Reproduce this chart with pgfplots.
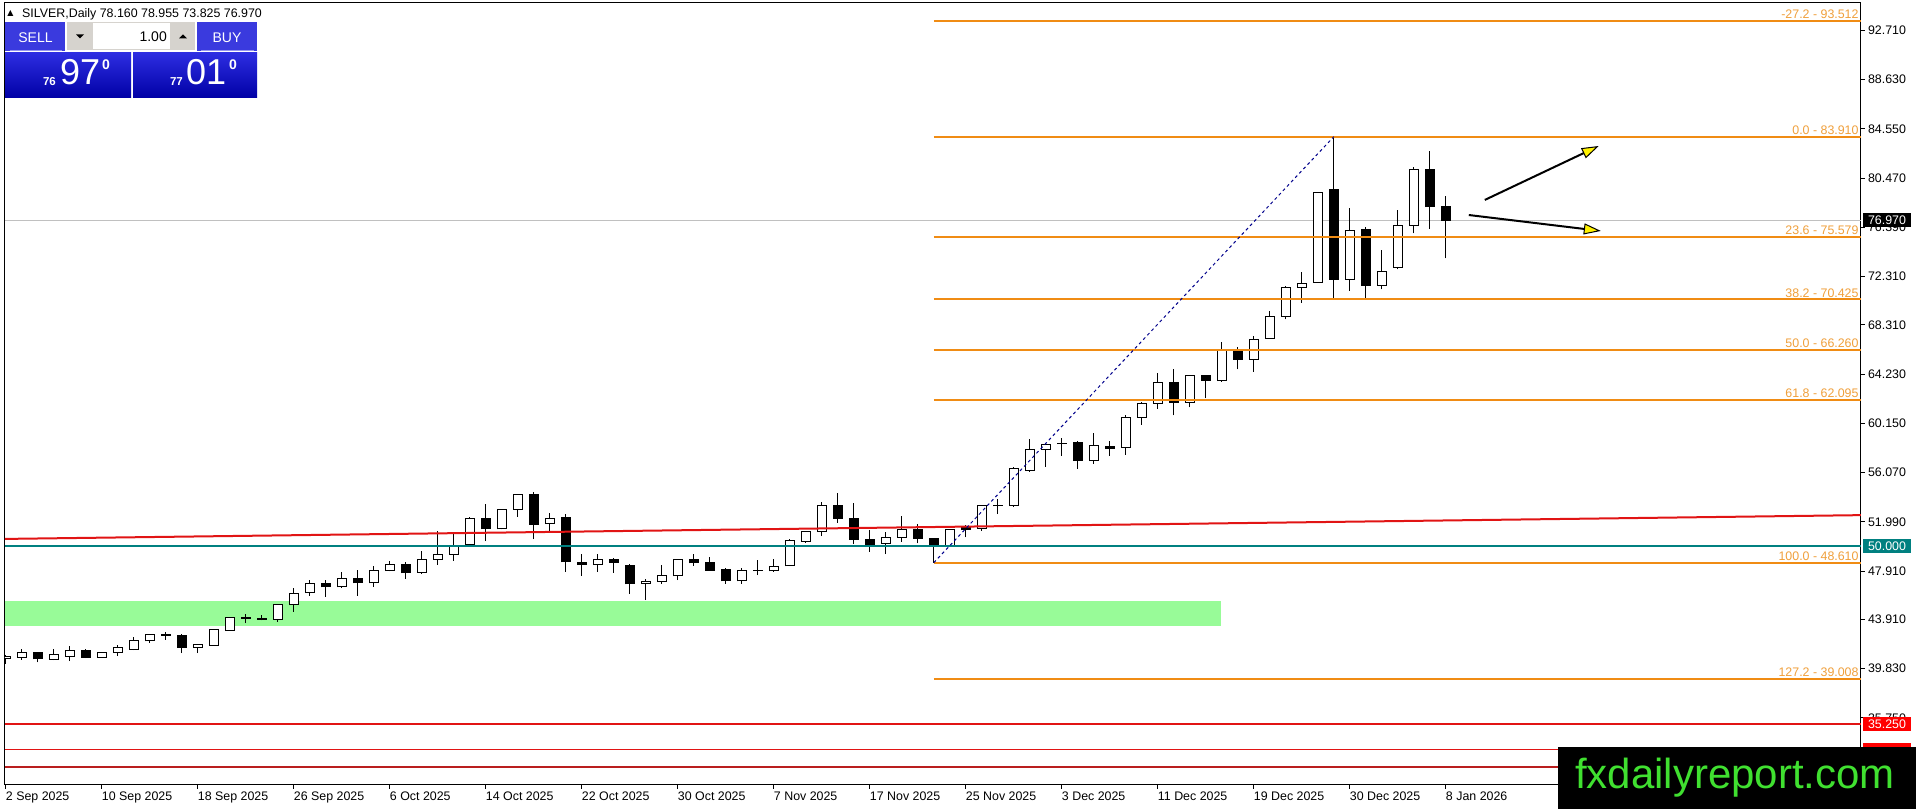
\documentclass[border=0pt]{standalone}
\usepackage{fontspec}
\setmainfont{Liberation Sans}
\newfontfamily\dejavu{DejaVu Sans}
\usepackage{pgfplots}
\pgfplotsset{compat=1.18}
\usepackage{pgfplotstable}
\usetikzlibrary{arrows.meta}
\definecolor{fibline}{RGB}{240,140,20}
\definecolor{fibtext}{RGB}{240,160,60}
\definecolor{tealc}{RGB}{0,128,128}
\definecolor{redc}{RGB}{225,20,20}
\definecolor{darkredc}{RGB}{185,30,30}
\definecolor{zone}{RGB}{152,251,152}
\definecolor{wm}{RGB}{64,224,48}
\definecolor{navyc}{RGB}{0,0,140}
\definecolor{btn}{RGB}{58,58,222}
\definecolor{btnline}{RGB}{150,150,240}
\definecolor{bigtop}{RGB}{45,45,225}
\definecolor{bigbot}{RGB}{0,0,165}
\definecolor{greyb}{RGB}{214,211,206}
\definecolor{pricegray}{RGB}{192,192,192}

\pgfplotstableread{
x o h l c
0 40.65 40.93 40.23 40.87
1 40.79 41.45 40.57 41.17
2 41.15 41.17 40.34 40.65
3 40.62 41.42 40.54 41.01
4 40.87 41.67 40.45 41.31
5 41.31 41.42 40.70 40.79
6 40.79 41.20 40.74 41.15
7 41.15 41.76 40.87 41.59
8 41.45 42.45 41.37 42.14
9 42.14 42.73 41.95 42.64
10 42.60 42.86 42.23 42.64
11 42.56 42.67 41.12 41.62
12 41.62 41.90 41.12 41.84
13 41.78 43.08 41.72 43.06
14 42.98 44.10 42.95 44.08
15 44.00 44.39 43.61 44.05
16 43.93 44.25 43.83 43.97
17 43.92 45.22 43.70 45.14
18 45.14 46.55 44.53 46.05
19 46.13 47.16 45.86 46.91
20 46.88 47.16 45.77 46.61
21 46.60 47.82 46.55 47.30
22 47.30 48.04 45.86 46.94
23 46.94 48.32 46.60 47.93
24 47.96 48.74 47.90 48.46
25 48.46 48.65 47.27 47.77
26 47.80 49.57 47.71 48.88
27 48.88 51.23 48.43 49.26
28 49.29 51.15 48.79 50.04
29 50.15 52.36 50.10 52.28
30 52.28 53.47 50.40 51.42
31 51.42 53.10 51.37 53.03
32 53.03 54.25 52.42 54.22
33 54.22 54.45 50.57 51.78
34 51.84 52.70 51.18 52.28
35 52.37 52.64 47.85 48.68
36 48.65 49.32 47.52 48.46
37 48.46 49.37 47.85 48.88
38 48.90 48.96 47.77 48.63
39 48.38 48.54 46.02 46.85
40 46.88 47.27 45.50 47.07
41 47.05 48.38 46.88 47.52
42 47.52 48.92 47.17 48.90
43 48.90 49.32 48.35 48.60
44 48.65 49.07 47.93 47.99
45 48.04 48.21 46.88 47.10
46 47.10 48.21 46.88 47.99
47 47.95 48.82 47.57 47.97
48 47.93 48.90 47.85 48.27
49 48.35 50.55 48.33 50.45
50 50.40 51.25 50.26 51.23
51 51.18 53.61 50.82 53.31
52 53.31 54.42 51.92 52.28
53 52.28 53.53 50.15 50.54
54 50.54 51.31 49.51 50.15
55 50.21 51.18 49.32 50.68
56 50.70 52.48 50.34 51.37
57 51.40 51.78 50.21 50.62
58 50.62 50.65 48.61 49.98
59 49.98 51.40 49.95 51.37
60 51.50 51.72 50.70 51.36
61 51.45 53.38 51.25 53.36
62 53.31 53.86 52.64 53.35
63 53.33 56.50 53.25 56.38
64 56.24 58.90 56.16 58.01
65 58.01 58.45 56.57 58.43
66 58.47 58.96 57.46 58.51
67 58.54 58.71 56.41 57.07
68 57.07 59.37 56.82 58.35
69 58.26 58.71 57.46 58.07
70 58.15 60.87 57.57 60.67
71 60.67 61.92 60.04 61.84
72 61.84 64.33 61.37 63.58
73 63.58 64.66 60.81 61.89
74 61.89 64.19 61.48 64.11
75 64.11 64.19 62.22 63.72
76 63.69 66.93 63.61 66.24
77 66.24 66.51 64.63 65.46
78 65.46 67.40 64.44 67.12
79 67.20 69.47 67.15 69.00
80 69.00 71.54 68.78 71.43
81 71.43 72.67 70.16 71.76
82 71.84 79.32 71.80 79.30
83 79.55 83.91 70.52 72.09
84 72.09 77.97 71.15 76.15
85 76.23 76.40 70.52 71.59
86 71.59 74.52 71.26 72.72
87 73.08 77.83 72.92 76.54
88 76.54 81.42 75.90 81.20
89 81.20 82.72 76.29 78.11
90 78.16 78.955 73.825 76.97
}\candles

\begin{document}
\begin{tikzpicture}[x=1pt,y=1pt]
\path[use as bounding box, fill=white] (0,0) rectangle (1916,809);
\begin{axis}[
  at={(3,20)}, anchor=south west,
  width=1856pt, height=782pt, scale only axis,
  xmin=-0.06, xmax=115.94, ymin=30.20, ymax=95.0,
  clip mode=individual,
  axis line style={black, line width=1pt},
  tick style={black, line width=1pt},
  tick align=outside, major tick length=4pt,
  xtick pos=bottom, ytick pos=right, yticklabel pos=right,
  ytick={92.71,88.63,84.55,80.47,76.39,72.31,68.31,64.23,60.15,56.07,51.99,47.91,43.91,39.83,35.75},
  yticklabels={92.710,88.630,84.550,80.470,76.390,72.310,68.310,64.230,60.150,56.070,51.990,47.910,43.910,39.830,35.750},
  xtick={0,6,12,18,24,30,36,42,48,54,60,66,72,78,84,90},
  xticklabels={2 Sep 2025,10 Sep 2025,18 Sep 2025,26 Sep 2025,6 Oct 2025,14 Oct 2025,22 Oct 2025,30 Oct 2025,7 Nov 2025,17 Nov 2025,25 Nov 2025,3 Dec 2025,11 Dec 2025,19 Dec 2025,30 Dec 2025,8 Jan 2026},
  tick label style={font=\fontsize{12.4}{14}\selectfont},
  xticklabel style={anchor=north west, inner sep=0pt, yshift=-3pt},
  yticklabel style={anchor=west, inner sep=0pt, xshift=3pt},
]
% support zone
\addplot[fill=zone, draw=none] coordinates {(-0.06,43.37) (75.94,43.37) (75.94,45.44) (-0.06,45.44)} -- cycle;
% current price line
\addplot[pricegray, line width=1pt] coordinates {(-0.06,76.97) (115.94,76.97)};
% wicks
\addplot[draw=none, mark=none, error bars/.cd, y dir=plus, y explicit, error mark=none,
  error bar style={draw=black, solid, line width=1pt}]
  table[x=x, y=l, y error expr=\thisrow{h}-\thisrow{l}] {\candles};
% body outlines / black bodies
\addplot[draw=none, mark=none, error bars/.cd, y dir=plus, y explicit, error mark=none,
  error bar style={draw=black, solid, line width=10pt}]
  table[x=x, y expr={min(\thisrow{o},\thisrow{c})-0.0414}, y error expr={abs(\thisrow{c}-\thisrow{o})+0.0828}] {\candles};
% white bodies
\addplot[draw=none, mark=none, error bars/.cd, y dir=plus, y explicit, error mark=none,
  error bar style={draw=white, solid, line width=8pt}]
  table[x=x, y expr={\thisrow{o}+0.0414}, y error expr={max(\thisrow{c}-\thisrow{o}-0.0828,0)}] {\candles};
% fibonacci levels
\addplot[fibline, line width=2pt] coordinates {(58,93.512) (115.94,93.512)};
\addplot[fibline, line width=2pt] coordinates {(58,83.910) (115.94,83.910)};
\addplot[fibline, line width=2pt] coordinates {(58,75.579) (115.94,75.579)};
\addplot[fibline, line width=2pt] coordinates {(58,70.425) (115.94,70.425)};
\addplot[fibline, line width=2pt] coordinates {(58,66.260) (115.94,66.260)};
\addplot[fibline, line width=2pt] coordinates {(58,62.095) (115.94,62.095)};
\addplot[fibline, line width=2pt] coordinates {(58,48.610) (115.94,48.610)};
\addplot[fibline, line width=2pt] coordinates {(58,39.008) (115.94,39.008)};
% teal 50 line
\addplot[tealc, line width=2pt] coordinates {(-0.06,50.0) (115.94,50.0)};
% red trend line
\addplot[redc, line width=2pt] coordinates {(-0.06,50.58) (115.94,52.55)};
% red horizontal lines
\addplot[redc, line width=2pt] coordinates {(-0.06,35.25) (115.94,35.25)};
\addplot[redc, line width=0.8pt] coordinates {(-0.06,33.10) (115.94,33.10)};
\addplot[darkredc, line width=2.2pt] coordinates {(-0.06,31.66) (115.94,31.66)};
% fib trend line
\addplot[navyc, line width=1pt, dash pattern=on 3pt off 3pt] coordinates {(58,48.61) (83,83.91)};
% arrows
\addplot[black, line width=2pt, -{Triangle[length=17pt, width=11pt, fill=yellow, line width=1pt]}] coordinates {(92.44,78.67) (99.56,83.14)};
\addplot[black, line width=2pt, -{Triangle[length=17pt, width=11pt, fill=yellow, line width=1pt]}] coordinates {(91.44,77.42) (99.69,76.10)};
% fib labels
\begin{scope}[every node/.style={anchor=south east, inner sep=0pt, yshift=2pt, text=fibtext, font=\fontsize{12.4}{14}\selectfont}]
\node at (axis cs:115.81,93.512) {-27.2 - 93.512};
\node at (axis cs:115.81,83.910) {0.0 - 83.910};
\node at (axis cs:115.81,75.579) {23.6 - 75.579};
\node at (axis cs:115.81,70.425) {38.2 - 70.425};
\node at (axis cs:115.81,66.260) {50.0 - 66.260};
\node at (axis cs:115.81,62.095) {61.8 - 62.095};
\node at (axis cs:115.81,48.610) {100.0 - 48.610};
\node at (axis cs:115.81,39.008) {127.2 - 39.008};
\end{scope}
% price boxes on the right axis
\begin{scope}[every node/.style={anchor=west, xshift=2pt, inner sep=0pt, minimum width=48pt, minimum height=14pt, text=white, font=\fontsize{12.4}{14}\selectfont}]
\node[fill=black] at (axis cs:115.94,76.97) {76.970};
\node[fill=tealc] at (axis cs:115.94,50.0) {50.000};
\node[fill=red] at (axis cs:115.94,35.25) {35.250};
\node[fill=red] at (axis cs:115.94,33.10) {};
\end{scope}
\end{axis}

% watermark
\fill[black] (1558,0) rectangle (1916,62);
\node[text=wm, inner sep=0pt, anchor=base west, font=\fontsize{42}{42}\selectfont] at (1575,21) {fxdailyreport.com};

% title
\node[anchor=center, inner sep=0pt, font=\dejavu\fontsize{8}{8}\selectfont] at (10.5,796) {▲};
\node[anchor=base west, inner sep=0pt, font=\fontsize{12.4}{14}\selectfont] at (22,791.5) {SILVER,Daily 78.160 78.955 73.825 76.970};

% trade panel
\fill[btn] (5,758) rectangle (65,787);
\draw[btnline, line width=1pt] (10,758.5) -- (62,758.5);
\node[text=white, anchor=base, inner sep=0pt, font=\fontsize{14}{14}\selectfont] at (35.5,766) {SELL};
\fill[btn] (197,758) rectangle (257,787);
\draw[btnline, line width=1pt] (201,758.5) -- (254,758.5);
\node[text=white, anchor=base, inner sep=0pt, font=\fontsize{14}{14}\selectfont] at (227,766) {BUY};
\fill[greyb] (67,759) rectangle (195,787);
\fill[white] (93,760) rectangle (170,786);
\fill[black] (76,774.5) -- (84,774.5) -- (80,770.5) -- cycle;
\fill[black] (179,770.5) -- (187,770.5) -- (183,774.5) -- cycle;
\node[anchor=base east, inner sep=0pt, font=\fontsize{14}{14}\selectfont] at (167,767) {1.00};
\shade[top color=bigtop, bottom color=bigbot] (5,711) rectangle (131,756);
\shade[top color=bigtop, bottom color=bigbot] (133,711) rectangle (257,756);
\node[text=white, anchor=base east, inner sep=0pt, font=\bfseries\fontsize{11.5}{12}\selectfont] at (56,723) {76};
\node[text=white, anchor=base west, inner sep=0pt, font=\fontsize{36}{36}\selectfont] at (60,724) {97};
\node[text=white, anchor=base west, inner sep=0pt, font=\bfseries\fontsize{14}{14}\selectfont] at (102,739) {0};
\node[text=white, anchor=base east, inner sep=0pt, font=\bfseries\fontsize{11.5}{12}\selectfont] at (183,723) {77};
\node[text=white, anchor=base west, inner sep=0pt, font=\fontsize{36}{36}\selectfont] at (186,724) {01};
\node[text=white, anchor=base west, inner sep=0pt, font=\bfseries\fontsize{14}{14}\selectfont] at (229,739) {0};
\end{tikzpicture}
\end{document}
